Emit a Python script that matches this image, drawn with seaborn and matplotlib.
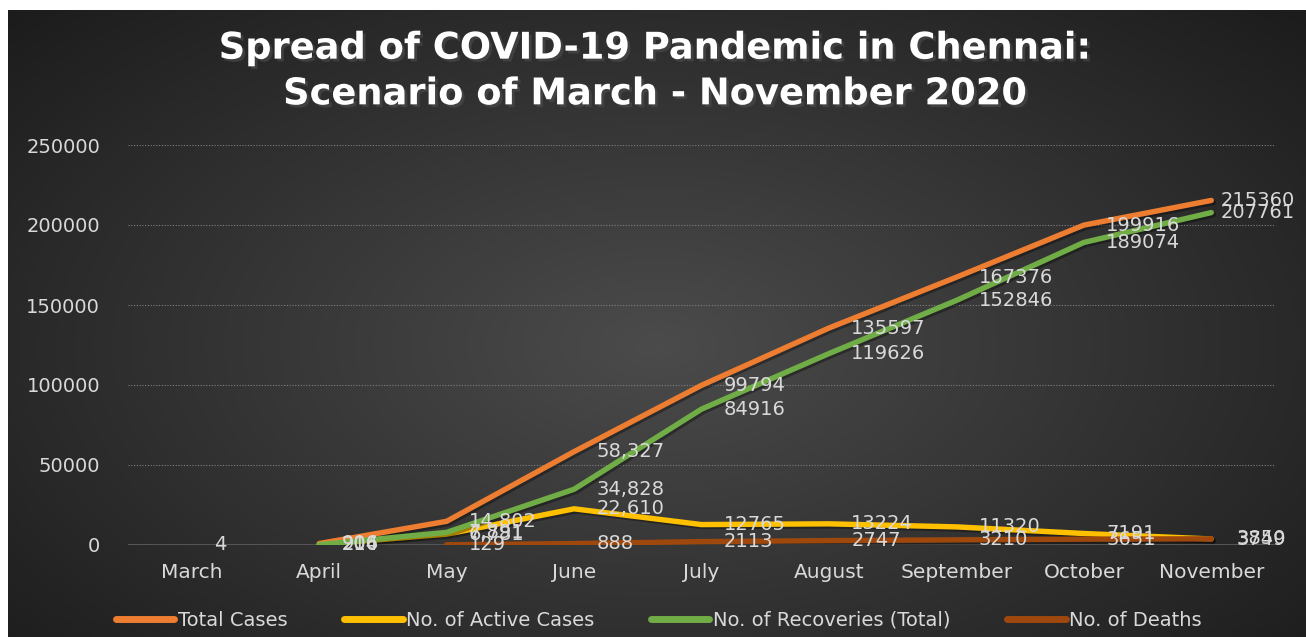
import numpy as np
import pandas as pd
import matplotlib
matplotlib.use("Agg")
import matplotlib.pyplot as plt
import matplotlib.patheffects as pe
from matplotlib.lines import Line2D
import seaborn as sns

# Chart data
months = ["March", "April", "May", "June", "July", "August", "September", "October", "November"]
total_cases = [np.nan, 906, 14802, 58327, 99794, 135597, 167376, 199916, 215360]
active_cases = [np.nan, 206, 6781, 22610, 12765, 13224, 11320, 7191, 3749]
recoveries = [np.nan, 214, 7891, 34828, 84916, 119626, 152846, 189074, 207761]
deaths = [np.nan, np.nan, 129, 888, 2113, 2747, 3210, 3651, 3850]
march_value = 4
comma_months = ["May", "June"]

series_names = ["Total Cases", "No. of Active Cases", "No. of Recoveries (Total)", "No. of Deaths"]
series_values = [total_cases, active_cases, recoveries, deaths]
colors = ["#ED7D31", "#FFC000", "#70AD47", "#9E480E"]
# last-point label offsets (labels squeezed at the right edge)
last_offsets = [7, 18, 7, 18]

rows = []
for name, vals in zip(series_names, series_values):
    for i, (m, v) in enumerate(zip(months, vals)):
        rows.append({"pos": i, "month": m, "series": name, "value": v})
df = pd.DataFrame(rows).dropna()

sns.set_style("dark")
plt.rcParams["font.family"] = ["DejaVu Sans"]

W, H = 1306, 637
fig = plt.figure(figsize=(W / 100, H / 100), dpi=100)
fig.patch.set_facecolor("white")

# radial gradient background
bg = fig.add_axes([8 / W, 0, (W - 8) / W, (H - 10) / H])
yy, xx = np.mgrid[0:300, 0:600]
r = np.sqrt(((xx - 300) / 330) ** 2 + ((yy - 160) / 190) ** 2)
r = np.clip(r, 0, 1.3)
shade = 0.295 - 0.15 * r
img = np.dstack([shade, shade, shade])
bg.imshow(img, aspect="auto", extent=[0, 1, 0, 1])
bg.set_axis_off()

ax = fig.add_axes([128 / W, 1 - 545 / H, (1275 - 128) / W, 400 / H])
ax.set_facecolor("none")

sns.lineplot(data=df, x="pos", y="value", hue="series", palette=dict(zip(series_names, colors)),
             hue_order=series_names, linewidth=3.9, sort=False, legend=False, ax=ax,
             solid_capstyle="round", solid_joinstyle="round",
             path_effects=[pe.SimpleLineShadow(offset=(1.5, -1.5), alpha=0.35), pe.Normal()])

ax.set_xlim(-0.5, len(months) - 0.5)
ax.set_ylim(0, 250000)
ax.set_yticks(np.arange(0, 250001, 50000))
ax.set_yticklabels([str(v) for v in range(0, 250001, 50000)])
ax.set_xticks(range(len(months)))
ax.set_xticklabels(months)
ax.tick_params(axis="y", colors="#d9d9d9", labelsize=14, length=0, pad=20)
ax.tick_params(axis="x", colors="#d9d9d9", labelsize=14.5, length=0, pad=13)
ax.set_xlabel("")
ax.set_ylabel("")
ax.grid(axis="y", color="#808080", linestyle=(0, (1, 1.5)), linewidth=0.8)
ax.grid(axis="x", visible=False)
for s in ax.spines.values():
    s.set_visible(False)
ax.axhline(0, color="#555555", linewidth=1.5, zorder=1)

# data labels
for k, (name, vals) in enumerate(zip(series_names, series_values)):
    for i, v in enumerate(vals):
        if np.isnan(v):
            continue
        v = int(v)
        txt = f"{v:,}" if months[i] in comma_months else str(v)
        dx = last_offsets[k] if i == len(months) - 1 else 16
        ax.annotate(txt, (i, v), xytext=(dx, 0), textcoords="offset points",
                    ha="left", va="center", color="#d9d9d9", fontsize=14, zorder=5)
ax.annotate(str(march_value), (0, march_value), xytext=(16, 0), textcoords="offset points",
            ha="left", va="center", color="#d9d9d9", fontsize=14, zorder=5)

# title
fig.text(655 / W, 1 - 71 / H, "Spread of COVID-19 Pandemic in Chennai:\nScenario of March - November 2020",
         ha="center", va="center", color="white", fontsize=26.5, fontweight="bold",
         linespacing=1.3,
         path_effects=[pe.SimplePatchShadow(offset=(2, -2), alpha=0.6), pe.Normal()])

# legend
handles = [Line2D([0], [0], color=c, linewidth=5, solid_capstyle="round") for c in colors]
leg = fig.legend(handles, series_names, loc="center", bbox_to_anchor=(659 / W, 1 - 620 / H),
                 ncol=4, frameon=False, fontsize=14, handlelength=3, handletextpad=0.2,
                 columnspacing=2.9)
for t in leg.get_texts():
    t.set_color("#d9d9d9")

fig.savefig("out.png", dpi=100, facecolor=fig.get_facecolor())
